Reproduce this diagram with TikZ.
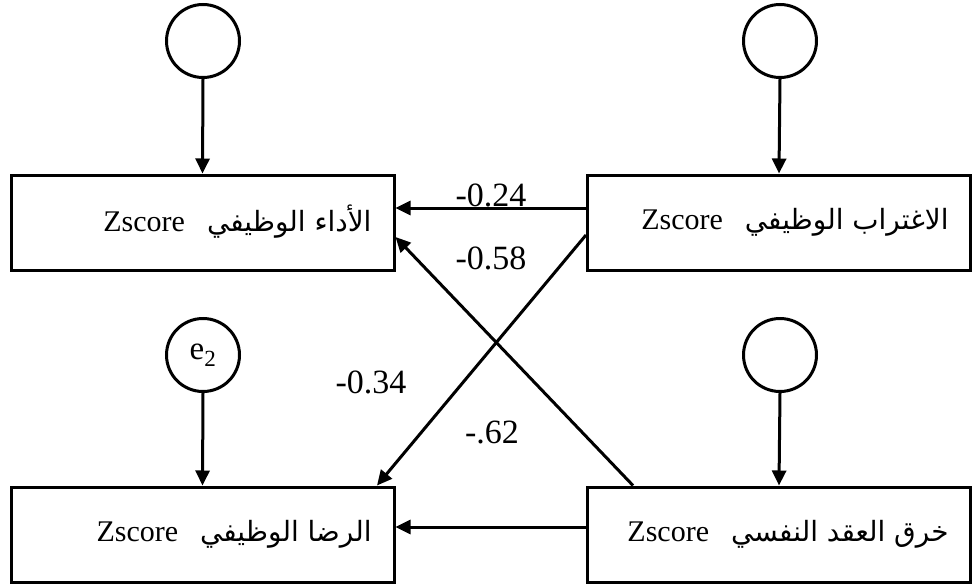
\documentclass[tikz,border=0pt]{standalone}
\usepackage{fontspec}
\setmainfont{Liberation Serif}
\newfontfamily\arabicfont[Script=Arabic,Scale=0.93]{DejaVu Sans}
\TeXXeTstate=1
\usetikzlibrary{arrows.meta,calc}
\begin{document}
\begin{tikzpicture}[x=1pt,y=-1pt,
  line width=3pt,
  varbox/.style={draw,rectangle,minimum width=383pt,minimum height=95pt,inner sep=0pt},
  errc/.style={draw,circle,minimum size=73pt,inner sep=0pt},
  boxtxt/.style={font=\fontsize{30}{34}\selectfont,inner sep=0pt,anchor=east},
  lbl/.style={font=\fontsize{34}{38}\selectfont,inner sep=0pt},
  path/.style={-{Triangle[length=15pt,width=14pt]}}]
\useasboundingbox (0,0) rectangle (978,586);
% boxes
\node[varbox] (tl) at (202.5,222.5) {};
\node[varbox] (tr) at (779,222.5) {};
\node[varbox] (bl) at (202.5,534.5) {};
\node[varbox] (br) at (779,534.5) {};
% box texts
\node[boxtxt] (ttl) at (373,222) {Zscore\hspace{22pt}\arabicfont\beginR الأداء الوظيفي\endR};
\node[boxtxt] (ttr) at (950,222) {Zscore\hspace{22pt}\arabicfont\beginR الاغتراب الوظيفي\endR};
\node[boxtxt] (tbl) at (373,534) {Zscore\hspace{22pt}\arabicfont\beginR الرضا الوظيفي\endR};
\node[boxtxt] (tbr) at (950,534) {Zscore\hspace{22pt}\arabicfont\beginR خرق العقد النفسي\endR};
% circles
\node[errc] (c1) at (203,41) {};
\node[errc] (c2) at (780,41) {};
\node[errc] (c3) at (203,355) {\fontsize{33}{36}\selectfont e\textsubscript{2}};
\node[errc] (c4) at (780,355) {};
% arrows
\draw[path] (c1.south) -- (tl.north);
\draw[path] (c2.south) -- (tr.north);
\draw[path] (c3.south) -- (bl.north);
\draw[path] (c4.south) -- (br.north);
\draw[path] ([yshift=14.5pt]tr.west) -- ([yshift=14.5pt]tl.east);
\draw[path] ([yshift=-12.5pt]tr.west) -- ([xshift=174.5pt]bl.north);
\draw[path] ([xshift=-146pt]br.north) -- ([yshift=-14.5pt]tl.east);
\draw[path] ([yshift=7.5pt]br.west) -- ([yshift=7.5pt]bl.east);
% coefficient labels
\node[lbl] (l1) at (491,195) {-0.24};
\node[lbl] (l2) at (491,258) {-0.58};
\node[lbl] (l3) at (371,382) {-0.34};
\node[lbl] (l4) at (492,432) {-.62};
\end{tikzpicture}
\end{document}
